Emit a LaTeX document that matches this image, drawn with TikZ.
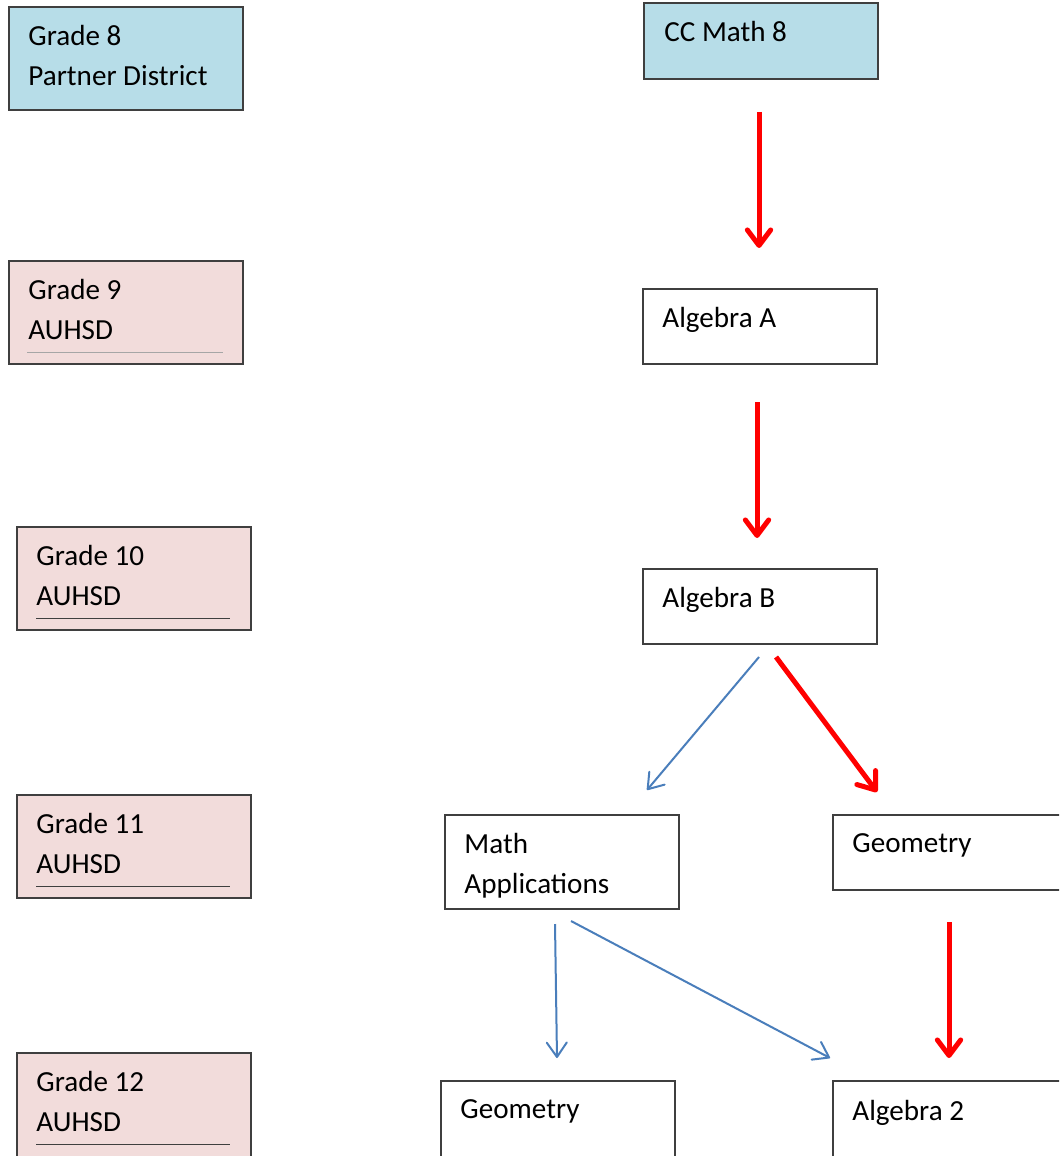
\documentclass[tikz,border=0pt]{standalone}
\usepackage{fontspec}
\setmainfont{Carlito}
\usepackage{tikz}
\usetikzlibrary{arrows.meta,calc,positioning}
\definecolor{gradeblue}{HTML}{B7DDE8}
\definecolor{gradepink}{HTML}{F2DCDB}
\definecolor{boxline}{HTML}{3F3F3F}
\definecolor{pathblue}{HTML}{4A7EBB}

\begin{document}
\begin{tikzpicture}[x=0.45pt,y=-0.45pt]
\tikzset{
  course/.style={draw=boxline,line width=0.9pt,rectangle,inner sep=0pt,anchor=north west,minimum width=105.3pt,minimum height=33.75pt},
  gradebox/.style={course,fill=gradepink,minimum height=46.35pt},
  label txt/.style={anchor=north west,inner sep=0pt,align=left,font=\fontsize{13.1pt}{18pt}\selectfont},
  mainpath/.style={draw=red,line width=2.25pt,-{Straight Barb[length=7pt,width=10.5pt,round]}},
  altpath/.style={draw=pathblue,line width=0.9pt,-{Straight Barb[length=6.5pt,width=9pt,round]}},
  rule line/.style={draw=boxline,line width=0.45pt}
}
\clip (0,0) rectangle (1059,1156);
\fill[white] (0,0) rectangle (1059,1156);
\node[gradebox,fill=gradeblue] (g8) at (8,6) {};
\node[label txt] (g8t) at ($(g8.north west)+(20,19)$) {Grade 8\\Partner District};
\node[gradebox] (g9) at (8,260) {};
\node[label txt] (g9t) at ($(g9.north west)+(20,19)$) {Grade 9\\AUHSD};
\draw[rule line,draw=gray!70] ($(g9.north west)+(19,93)$) -- ($(g9.north east)+(-21,93)$);
\node[gradebox] (g10) at (16,526) {};
\node[label txt] (g10t) at ($(g10.north west)+(20,19)$) {Grade 10\\AUHSD};
\draw[rule line] ($(g10.north west)+(20,92)$) -- ($(g10.north east)+(-22,92)$);
\node[gradebox] (g11) at (16,794) {};
\node[label txt] (g11t) at ($(g11.north west)+(20,19)$) {Grade 11\\AUHSD};
\draw[rule line] ($(g11.north west)+(20,92)$) -- ($(g11.north east)+(-22,92)$);
\node[gradebox,minimum height=47.7pt] (g12) at (16,1052) {};
\node[label txt] (g12t) at ($(g12.north west)+(20,19)$) {Grade 12\\AUHSD};
\draw[rule line] ($(g12.north west)+(20,92)$) -- ($(g12.north east)+(-22,92)$);

\node[course,fill=gradeblue,minimum height=34.2pt] (cc) at (643,2) {};
\node[label txt] (cct) at ($(cc.north west)+(21,19)$) {CC Math 8};
\node[course] (alga) at (642,288) {};
\node[label txt] (algat) at ($(alga.north west)+(20,19)$) {Algebra A};
\node[course] (algb) at (642,568) {};
\node[label txt] (algbt) at ($(algb.north west)+(20,19)$) {Algebra B};
\node[course,minimum height=42.3pt] (mapp) at (444,814) {};
\node[label txt] (mappt) at ($(mapp.north west)+(20,19)$) {Math\\Applications};
\node[course] (geor) at (832,814) {};
\node[label txt] (geort) at ($(geor.north west)+(20,19)$) {Geometry};
\node[course,minimum height=36pt] (geob) at (440,1080) {};
\node[label txt] (geobt) at ($(geob.north west)+(20,19)$) {Geometry};
\node[course,minimum height=36pt] (alg2) at (832,1080) {};
\node[label txt] (alg2t) at ($(alg2.north west)+(20,20)$) {Algebra 2};

\draw[mainpath] ($(cc.south)+(-2,32)$) -- ($(alga.north)+(-1,-40)$);
\draw[mainpath] ($(alga.south)+(-3,37)$) -- ($(algb.north)+(-3,-30)$);
\draw[mainpath] ($(algb.south)+(16,12)$) -- ($(geor.north west)+(45,-22)$);
\draw[mainpath] ($(geor.south)+(-1,31)$) -- ($(alg2.north)+(-1,-22)$);
\draw[altpath] ($(algb.south)+(-1,12)$) -- ($(mapp.north)+(85,-24)$);
\draw[altpath] ($(mapp.south)+(-7,14)$) -- ($(geob.north)+(-1,-22)$);
\draw[altpath] ($(mapp.south)+(9,11)$) -- ($(alg2.north west)+(-2,-22)$);
\end{tikzpicture}
\end{document}
